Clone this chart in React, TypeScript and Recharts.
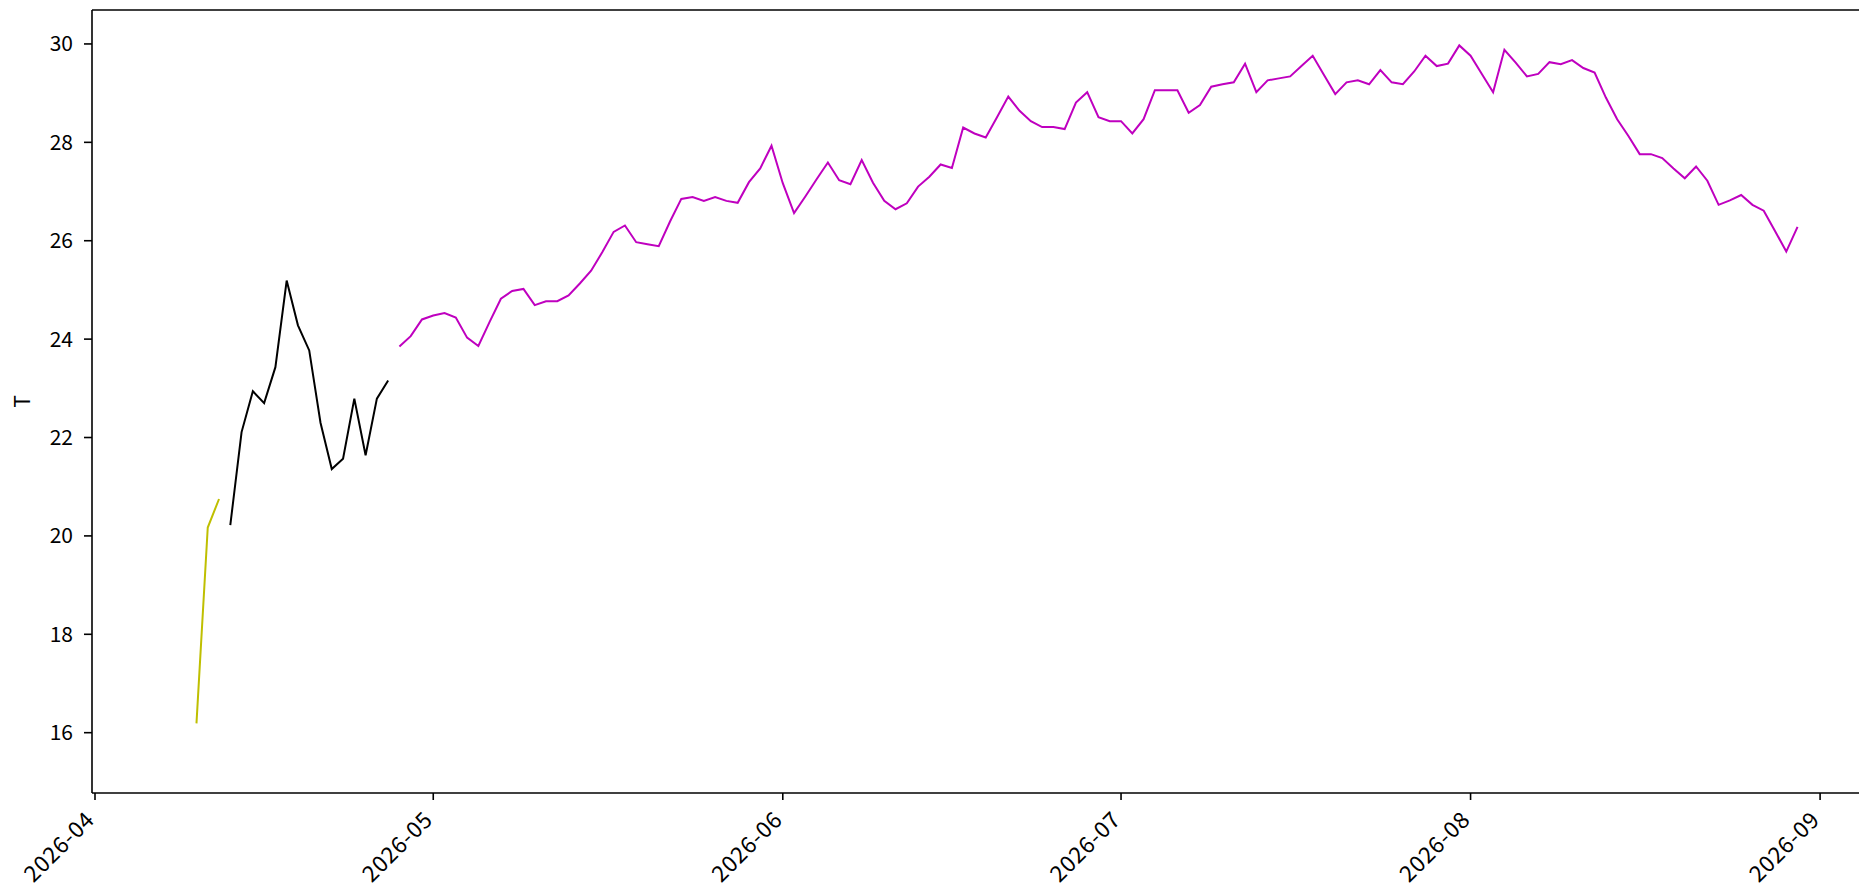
import React from "react";
import { LineChart, Line, XAxis, YAxis, ReferenceLine } from "recharts";

// ---- data ----
const ORIGIN = "2026-04-01";
const tickDates = ["2026-04-01", "2026-05-01", "2026-06-01", "2026-07-01", "2026-08-01", "2026-09-01"];
const tickLabels = ["2026-04", "2026-05", "2026-06", "2026-07", "2026-08", "2026-09"];
const yTicks = [16, 18, 20, 22, 24, 26, 28, 30];

const oliveStart = "2026-04-10";
const oliveValues = [16.19, 20.17, 20.75];

const blackStart = "2026-04-13";
const blackValues = [20.22, 22.11, 22.94, 22.7, 23.43, 25.19, 24.28, 23.77, 22.3, 21.36, 21.57, 22.79, 21.64, 22.79, 23.16];

const magentaStart = "2026-04-28";
const magentaValues = [
  23.85, 24.06, 24.4, 24.48, 24.53, 24.44, 24.03, 23.86, 24.35, 24.82,
  24.98, 25.02, 24.69, 24.77, 24.77, 24.89, 25.13, 25.39, 25.77, 26.18,
  26.31, 25.97, 25.93, 25.89, 26.39, 26.85, 26.89, 26.81, 26.89, 26.81,
  26.77, 27.19, 27.47, 27.93, 27.17, 26.56, 26.9, 27.25, 27.59, 27.23,
  27.15, 27.64, 27.18, 26.81, 26.64, 26.76, 27.1, 27.3, 27.55, 27.48,
  28.3, 28.18, 28.1, 28.51, 28.93, 28.64, 28.43, 28.31, 28.31, 28.27,
  28.81, 29.02, 28.51, 28.43, 28.43, 28.18, 28.47, 29.06, 29.06, 29.06,
  28.6, 28.76, 29.13, 29.18, 29.22, 29.6, 29.02, 29.26, 29.3, 29.34,
  29.55, 29.76, 29.37, 28.98, 29.22, 29.26, 29.18, 29.47, 29.22, 29.18,
  29.44, 29.76, 29.55, 29.6, 29.97, 29.76, 29.39, 29.02, 29.88, 29.62,
  29.34, 29.39, 29.63, 29.59, 29.67, 29.51, 29.42, 28.91, 28.47, 28.13,
  27.76, 27.76, 27.68, 27.47, 27.27, 27.51, 27.22, 26.73, 26.82, 26.93,
  26.73, 26.61, 26.2, 25.78, 26.28,
];

// ---- helpers ----
const DAY = 86400000;
const dayOf = (iso: string) => (Date.parse(iso + "T00:00:00Z") - Date.parse(ORIGIN + "T00:00:00Z")) / DAY;
const toSeries = (start: string, values: number[]) => {
  const s = dayOf(start);
  return values.map((v, i) => ({ d: s + i, v }));
};

const oliveData = toSeries(oliveStart, oliveValues);
const blackData = toSeries(blackStart, blackValues);
const magentaData = toSeries(magentaStart, magentaValues);
const xTicks = tickDates.map(dayOf);
const labelFor = (d: number) => tickLabels[xTicks.indexOf(d)] ?? "";

const X_DOMAIN: [number, number] = [-0.266, 157.16];
const Y_DOMAIN: [number, number] = [14.774, 30.69];

const FONT = "'Noto Sans CJK JP', 'Noto Sans', sans-serif";
const FS = 21;

const XTick = (props: any) => {
  const { x, payload } = props;
  return (
    <g transform={`translate(${x + 1},${821})`}>
      <text
        textAnchor="end"
        transform="rotate(-45)"
        fontFamily={FONT}
        fontSize={22.5}
        letterSpacing={0.8}
        fill="#000"
      >
        {labelFor(payload.value)}
      </text>
    </g>
  );
};

const YLabel = (props: any) => {
  const vb = props.viewBox || { x: 0, y: 0, height: 0 };
  const cx = 21;
  const cy = vb.y + vb.height / 2;
  return (
    <text
      x={cx}
      y={cy}
      transform={`rotate(-90, ${cx}, ${cy})`}
      textAnchor="middle"
      dominantBaseline="central"
      fontFamily={FONT}
      fontSize={FS}
      fill="#000"
    >
      T
    </text>
  );
};

export default function App() {
  return (
    <div style={{ margin: -8, width: 1867, height: 894, overflow: "hidden", background: "#fff" }}>
      <LineChart width={1867} height={894} margin={{ top: 10, right: 0, bottom: 0, left: 0 }}>
        <XAxis
          type="number"
          dataKey="d"
          domain={X_DOMAIN}
          ticks={xTicks}
          interval={0}
          height={101}
          tick={<XTick />}
          tickSize={7}
          axisLine={{ stroke: "#000", strokeWidth: 1.6 }}
          tickLine={{ stroke: "#000", strokeWidth: 1.6 }}
          allowDataOverflow
        />
        <YAxis
          type="number"
          domain={Y_DOMAIN}
          ticks={yTicks}
          interval={0}
          width={92}
          tickSize={8}
          tickMargin={11}
          tick={{ fontFamily: FONT, fontSize: FS, fill: "#000" }}
          axisLine={{ stroke: "#000", strokeWidth: 1.6 }}
          tickLine={{ stroke: "#000", strokeWidth: 1.6 }}
          allowDataOverflow
          label={<YLabel />}
        />
        <ReferenceLine y={Y_DOMAIN[1]} stroke="#000" strokeWidth={1.6} ifOverflow="visible" />
        <Line data={oliveData} dataKey="v" stroke="#bfbf00" strokeWidth={2} dot={false} isAnimationActive={false} />
        <Line data={blackData} dataKey="v" stroke="#000000" strokeWidth={2} dot={false} isAnimationActive={false} />
        <Line data={magentaData} dataKey="v" stroke="#bf00bf" strokeWidth={2} dot={false} isAnimationActive={false} />
      </LineChart>
    </div>
  );
}
